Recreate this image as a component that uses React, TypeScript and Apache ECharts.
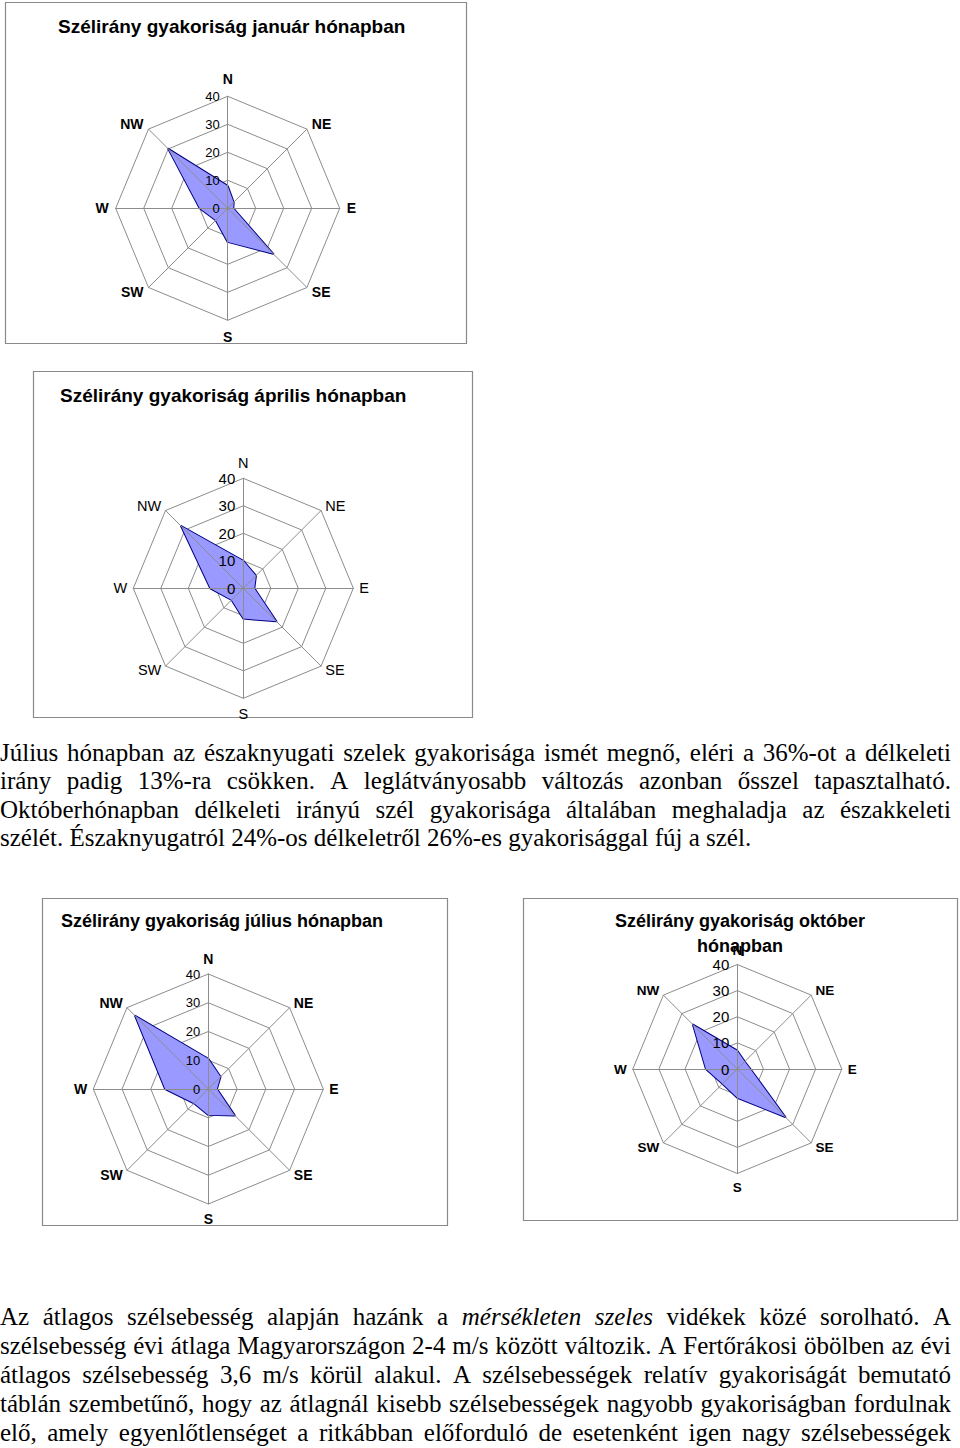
import React, { useEffect, useRef } from 'react';
import * as echarts from 'echarts';

// ---------- data ----------
const directions = ['N', 'NE', 'E', 'SE', 'S', 'SW', 'W', 'NW'];
const radialMax = 40;
const radialSplits = 4; // ticks 0,10,20,30,40
const janValues = [8, 3, 2, 23, 12, 6, 10, 30];
const aprValues = [10, 6.5, 4, 17, 11, 6, 12, 32];
const julValues = [10.5, 6, 3, 13, 9, 7, 15, 36];
const octValues = [7, 4, 5, 26, 11, 8, 12, 24];

const titleJan = ['Szélirány gyakoriság január hónapban'];
const titleApr = ['Szélirány gyakoriság április hónapban'];
const titleJul = ['Szélirány gyakoriság július hónapban'];
const titleOct = ['Szélirány gyakoriság október', 'hónapban'];

const para1Lines = [
  'Július hónapban az északnyugati szelek gyakorisága ismét megnő, eléri a 36%-ot a délkeleti',
  'irány padig 13%-ra csökken. A leglátványosabb változás azonban ősszel tapasztalható.',
  'Októberhónapban délkeleti irányú szél gyakorisága általában meghaladja az északkeleti',
  'szélét. Északnyugatról 24%-os délkeletről 26%-es gyakorisággal fúj a szél.',
];
const para2Lines = [
  'Az átlagos szélsebesség alapján hazánk a *mérsékleten szeles* vidékek közé sorolható. A',
  'szélsebesség évi átlaga Magyarországon 2-4 m/s között változik. A Fertőrákosi öbölben az évi',
  'átlagos szélsebesség 3,6 m/s körül alakul. A szélsebességek relatív gyakoriságát bemutató',
  'táblán szembetűnő, hogy az átlagnál kisebb szélsebességek nagyobb gyakoriságban fordulnak',
  'elő, amely egyenlőtlenséget a ritkábban előforduló de esetenként igen nagy szélsebességek',
];

// ---------- layout / style ----------
const GRID = '#8c8c8c';
const FILL = '#9999ff';
const EDGE = '#000080';
const SANS = '"Liberation Sans", Arial, sans-serif';
const SERIF = '"Liberation Serif", "Times New Roman", serif';
const TEXT_SIZE = 25;
const TEXT_LEFT = 0;
const TEXT_RIGHT = 951;

const charts = [
  {
    values: janValues, title: titleJan, titleX: 58, titleY: 26, titleAlign: 'left', titleSize: 19,
    center: [227.7, 208.3], radius: 112, frame: [5, 2, 461, 341],
    nameBold: true, nameSize: 14, tickSize: 13, gap: 7, gapNS: 10,
  },
  {
    values: aprValues, title: titleApr, titleX: 60, titleY: 395, titleAlign: 'left', titleSize: 19,
    center: [243.3, 588.3], radius: 110, frame: [33, 371, 439, 346],
    nameBold: false, nameSize: 14.5, tickSize: 15, gap: 6, gapNS: 8,
  },
  {
    values: julValues, title: titleJul, titleX: 61, titleY: 921, titleAlign: 'left', titleSize: 18,
    center: [208.3, 1089], radius: 115, frame: [42, 898, 405, 327],
    nameBold: true, nameSize: 14, tickSize: 13, gap: 6, gapNS: 8,
  },
  {
    values: octValues, title: titleOct, titleX: 740, titleY: 921, titleAlign: 'center', titleSize: 18,
    center: [737.3, 1069], radius: 104.5, frame: [523, 898, 434, 322],
    nameBold: true, nameSize: 13.5, tickSize: 15, gap: 6, gapNS: 7,
  },
];

// ECharts places radar indicators counter-clockwise, so walk the compass backwards
const ccwOrder = [0, 7, 6, 5, 4, 3, 2, 1];

function measureFactory() {
  const ctx = document.createElement('canvas').getContext('2d')!;
  return (text: string, italic: boolean) => {
    ctx.font = `${italic ? 'italic ' : ''}${TEXT_SIZE}px "Liberation Serif"`;
    return ctx.measureText(text).width;
  };
}

function layoutParagraph(lines: string[], ys: number[], justifyLast: boolean, measure: (t: string, i: boolean) => number) {
  const out: any[] = [];
  lines.forEach((line, li) => {
    let italic = false;
    const toks = line.split(' ').map((w) => {
      let t = w;
      let it = italic;
      if (t.startsWith('*')) { t = t.slice(1); it = true; italic = true; }
      if (t.endsWith('*')) { t = t.slice(0, -1); italic = false; }
      return { t, it, w: 0 };
    });
    toks.forEach((k) => { k.w = measure(k.t, k.it); });
    const sum = toks.reduce((a, k) => a + k.w, 0);
    const justify = li < lines.length - 1 || justifyLast;
    const space = measure(' ', false);
    let gap = justify && toks.length > 1 ? (TEXT_RIGHT - TEXT_LEFT - sum) / (toks.length - 1) : space;
    let scale = 1;
    if (gap < space * 0.6) {
      gap = space * 0.6;
      scale = (TEXT_RIGHT - TEXT_LEFT - gap * (toks.length - 1)) / sum;
    }
    let x = TEXT_LEFT;
    toks.forEach((k) => {
      out.push({
        type: 'text', x, y: ys[li], scaleX: scale, silent: true,
        style: {
          text: k.t, fontFamily: SERIF, fontSize: TEXT_SIZE, fontStyle: k.it ? 'italic' : 'normal',
          fill: '#000', align: 'left', verticalAlign: 'middle',
        },
      });
      x += k.w * scale + gap;
    });
  });
  return out;
}

export default function App() {
  const ref = useRef<HTMLDivElement>(null);
  useEffect(() => {
    const chart = echarts.init(ref.current!, null, { renderer: 'svg', width: 960, height: 1448 });
    const measure = measureFactory();
    const radars: any[] = [];
    const series: any[] = [];
    const graphics: any[] = [];

    charts.forEach((c, i) => {
      const names = ccwOrder.map((k) => directions[k]);
      const base = {
        center: c.center, radius: c.radius, startAngle: 90, shape: 'polygon', splitNumber: radialSplits,
        splitArea: { show: false }, axisTick: { show: false },
      };
      radars.push({
        ...base, z: 0,
        indicator: names.map((n) => ({ name: n, min: 0, max: radialMax })),
        axisName: { show: false },
        axisLine: { show: false },
        axisLabel: { show: false },
        splitLine: { show: true, lineStyle: { color: GRID, width: 1 } },
      });
      radars.push({
        ...base, z: 3,
        indicator: names.map((n) => ({
          name: n, min: 0, max: radialMax,
          nameGap: n === 'N' || n === 'S' ? c.gapNS : c.gap,
          axisLabel: { show: n === 'N' },
        })),
        axisName: {
          show: true, color: '#000', fontFamily: SANS, fontSize: c.nameSize,
          fontWeight: c.nameBold ? 'bold' : 'normal',
        },
        axisLine: { show: true, lineStyle: { color: GRID, width: 1 } },
        splitLine: { show: false },
        axisLabel: { show: true, color: '#000', fontFamily: SANS, fontSize: c.tickSize, margin: 8, showMinLabel: true, showMaxLabel: true, hideOverlap: false },
      });
      series.push({
        type: 'radar', radarIndex: i * 2, symbol: 'none', silent: true, z: 2,
        lineStyle: { color: EDGE, width: 2 },
        areaStyle: { color: FILL, opacity: 1 },
        data: [{ value: ccwOrder.map((k) => c.values[k]) }],
      });
      graphics.push({
        type: 'rect', silent: true, z: -1,
        shape: { x: c.frame[0] + 0.5, y: c.frame[1] + 0.5, width: c.frame[2], height: c.frame[3] },
        style: { fill: 'none', stroke: '#8a8a8a', lineWidth: 1.2 },
      });
      c.title.forEach((t, j) => {
        graphics.push({
          type: 'text', x: c.titleX, y: c.titleY + j * 25, silent: true, z: 10,
          style: {
            text: t, fontFamily: SANS, fontWeight: 'bold', fontSize: c.titleSize, fill: '#000',
            align: c.titleAlign, verticalAlign: 'middle',
          },
        });
      });
    });

    graphics.push(...layoutParagraph(para1Lines, [752, 780.5, 809, 837.5], false, measure));
    graphics.push(...layoutParagraph(para2Lines, [1316, 1345, 1374, 1403, 1432], true, measure));

    chart.setOption({
      animation: false,
      backgroundColor: '#fff',
      radar: radars,
      series,
      graphic: { elements: graphics },
    });
    return () => chart.dispose();
  }, []);
  return <div ref={ref} style={{ position: 'absolute', left: 0, top: 0, width: 960, height: 1448, background: '#fff' }} />;
}
